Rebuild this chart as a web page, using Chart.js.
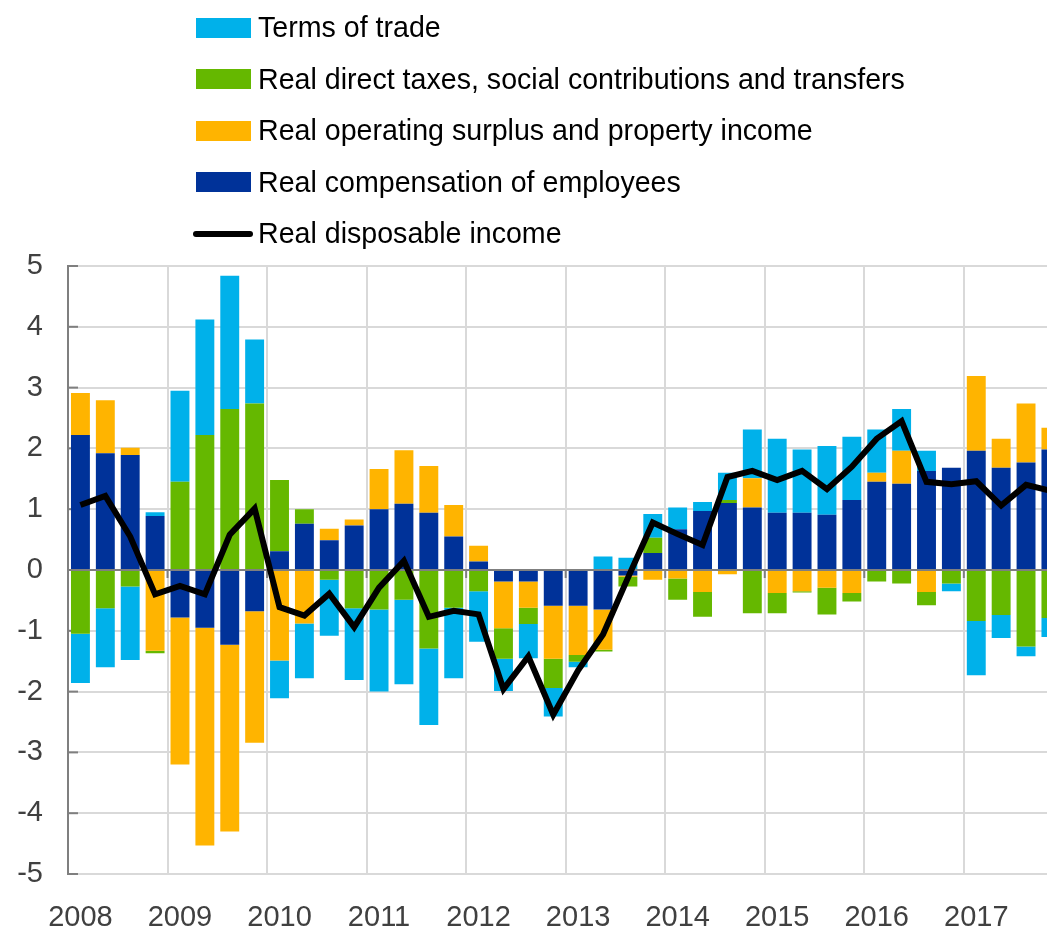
<!DOCTYPE html>
<html>
<head>
<meta charset="utf-8">
<script src="https://cdn.jsdelivr.net/npm/chart.js@4.4.1/dist/chart.umd.min.js"></script>
<style>
    html, body { margin: 0; padding: 0; background: #fff; overflow: hidden; }
    #wrap { position: absolute; left: 0; top: 0; width: 1078px; height: 935px; }
    #legend { position: absolute; left: 0; top: 2px; font-family: "Liberation Sans", Arial, sans-serif; font-size: 28.6px; color: #000; }
    .item { display: flex; align-items: center; height: 51.5px; white-space: nowrap; }
    .box { width: 55px; height: 20px; margin-left: 196px; margin-right: 7px; }
    .line { width: 60px; height: 6px; margin-left: 193px; margin-right: 5px; background: #000; border-radius: 3px; }
</style>
</head>
<body>
<div id="wrap">
    <canvas id="chartCanvas" width="1078" height="935"></canvas>
    <div id="legend"></div>
</div>
<script>
// quarterly, 2008 Q1 - 2017 Q4
const years = ['2008', '2009', '2010', '2011', '2012', '2013', '2014', '2015', '2016', '2017'];
const quarters = [];
years.forEach(y => ['Q1', 'Q2', 'Q3', 'Q4'].forEach(q => quarters.push(y + ' ' + q)));

const compensation = [2.22, 1.92, 1.89, 0.89, -0.78, -0.95, -1.23, -0.68, 0.31, 0.76, 0.49, 0.73,
    1.00, 1.09, 0.94, 0.55, 0.14, -0.19, -0.19, -0.59, -0.59, -0.65, -0.09, 0.28,
    0.67, 0.97, 1.10, 1.03, 0.94, 0.94, 0.91, 1.15, 1.45, 1.42, 1.63, 1.68, 1.96, 1.68, 1.77, 1.98];

const operatingSurplus = [0.69, 0.87, 0.12, -1.33, -2.42, -3.58, -3.07, -2.16, -1.49, -0.88, 0.19, 0.10,
    0.66, 0.88, 0.77, 0.52, 0.26, -0.77, -0.43, -0.87, -0.81, -0.66, -0.02, -0.16,
    -0.14, -0.36, -0.07, 0.48, -0.38, -0.35, -0.29, -0.38, 0.15, 0.54, -0.36, 0, 1.23, 0.48, 0.97, 0.36];

const taxesTransfers = [-1.05, -0.63, -0.27, -0.04, 1.45, 2.22, 2.65, 2.74, 1.17, 0.24, -0.16, -0.63,
    -0.65, -0.49, -1.29, -0.62, -0.35, -0.50, -0.27, -0.48, -0.11, -0.03, -0.16, 0.25,
    -0.35, -0.41, 0.05, -0.71, -0.33, -0.02, -0.44, -0.14, -0.19, -0.22, -0.22, -0.22, -0.84, -0.74, -1.26, -0.79];

const termsOfTrade = [-0.81, -0.97, -1.21, 0.06, 1.50, 1.90, 2.19, 1.05, -0.62, -0.90, -0.92, -1.18,
    -1.35, -1.39, -1.26, -1.16, -0.83, -0.53, -0.56, -0.47, -0.09, 0.22, 0.20, 0.39,
    0.36, 0.15, 0.45, 0.80, 1.22, 1.04, 1.13, 1.04, 0.71, 0.69, 0.33, -0.13, -0.89, -0.38, -0.16, -0.31];

const disposableIncome = [1.07, 1.22, 0.55, -0.40, -0.26, -0.40, 0.58, 1.01, -0.61, -0.75, -0.39, -0.94,
    -0.29, 0.15, -0.77, -0.67, -0.73, -1.96, -1.42, -2.38, -1.65, -1.06, -0.13, 0.78,
    0.59, 0.41, 1.53, 1.63, 1.48, 1.63, 1.33, 1.70, 2.16, 2.45, 1.45, 1.41, 1.46, 1.06, 1.40, 1.30];

const yTicks = [-5, -4, -3, -2, -1, 0, 1, 2, 3, 4, 5];

const FONT = '"Liberation Sans", Arial, sans-serif';
const GRID = '#d9d9d9';
const AXIS = '#7f7f7f';

// bar datasets in stacking order (closest to zero first)
const datasets = [
    { type: 'line', label: 'Real disposable income', data: disposableIncome, borderColor: '#000000',
      backgroundColor: '#000000', borderWidth: 6, pointRadius: 0, tension: 0, order: 0 },
    { label: 'Real compensation of employees', data: compensation, backgroundColor: '#003299', order: 1 },
    { label: 'Real operating surplus and property income', data: operatingSurplus, backgroundColor: '#ffb400', order: 1 },
    { label: 'Real direct taxes, social contributions and transfers', data: taxesTransfers, backgroundColor: '#65b800', order: 1 },
    { label: 'Terms of trade', data: termsOfTrade, backgroundColor: '#00b1ea', order: 1 }
];

// small tick marks: inside the y axis and below the zero line at year boundaries
const tickMarks = {
    id: 'tickMarks',
    beforeDatasetsDraw(chart) {
        const { ctx, chartArea, scales: { x, y } } = chart;
        ctx.save();
        ctx.strokeStyle = AXIS;
        ctx.lineWidth = 2;
        yTicks.forEach(v => {
            const py = y.getPixelForValue(v);
            ctx.beginPath();
            ctx.moveTo(chartArea.left, py);
            ctx.lineTo(chartArea.left + 10, py);
            ctx.stroke();
        });
        const step = x.getPixelForValue(1) - x.getPixelForValue(0);
        const y0 = y.getPixelForValue(0);
        for (let i = 4; i < quarters.length; i += 4) {
            const px = x.getPixelForValue(i) - step / 2;
            ctx.beginPath();
            ctx.moveTo(px, y0);
            ctx.lineTo(px, y0 + 8);
            ctx.stroke();
        }
        ctx.restore();
    }
};

const chart = new Chart(document.getElementById('chartCanvas').getContext('2d'), {
    type: 'bar',
    data: { labels: quarters, datasets: datasets },
    options: {
        responsive: false,
        animation: false,
        devicePixelRatio: 1,
        layout: { padding: { top: 266, right: 6, left: 0, bottom: 0 } },
        datasets: { bar: { barPercentage: 0.76, categoryPercentage: 1.0 } },
        plugins: { legend: { display: false }, tooltip: { enabled: false } },
        scales: {
            x: {
                stacked: true,
                offset: true,
                border: { display: false },
                grid: {
                    offset: true,
                    drawTicks: false,
                    lineWidth: 2,
                    color: c => (c.index % 4 === 0 ? GRID : 'rgba(0,0,0,0)')
                },
                ticks: {
                    autoSkip: false,
                    maxRotation: 0,
                    padding: 27,
                    color: '#404040',
                    font: { family: FONT, size: 29 },
                    callback: (v, i) => (i % 4 === 0 ? quarters[i].slice(0, 4) : '')
                },
                afterFit: s => { s.height = 61; }
            },
            y: {
                stacked: true,
                min: -5,
                max: 5,
                border: { display: true, color: AXIS, width: 2 },
                grid: {
                    drawTicks: false,
                    color: c => (c.tick && c.tick.value === 0 ? AXIS : GRID),
                    lineWidth: 2
                },
                ticks: {
                    stepSize: 1,
                    padding: 25,
                    color: '#404040',
                    font: { family: FONT, size: 29 }
                },
                afterFit: s => { s.width = 68; }
            }
        }
    },
    plugins: [tickMarks]
});

// legend, top to bottom
const legendOrder = ['Terms of trade', 'Real direct taxes, social contributions and transfers',
    'Real operating surplus and property income', 'Real compensation of employees', 'Real disposable income'];
const legend = document.getElementById('legend');
legendOrder.forEach(name => {
    const ds = datasets.find(d => d.label === name);
    const row = document.createElement('div');
    row.className = 'item';
    const key = document.createElement('span');
    if (ds.type === 'line') {
        key.className = 'line';
    } else {
        key.className = 'box';
        key.style.background = ds.backgroundColor;
    }
    row.appendChild(key);
    row.appendChild(document.createTextNode(name));
    legend.appendChild(row);
});
</script>
</body>
</html>
